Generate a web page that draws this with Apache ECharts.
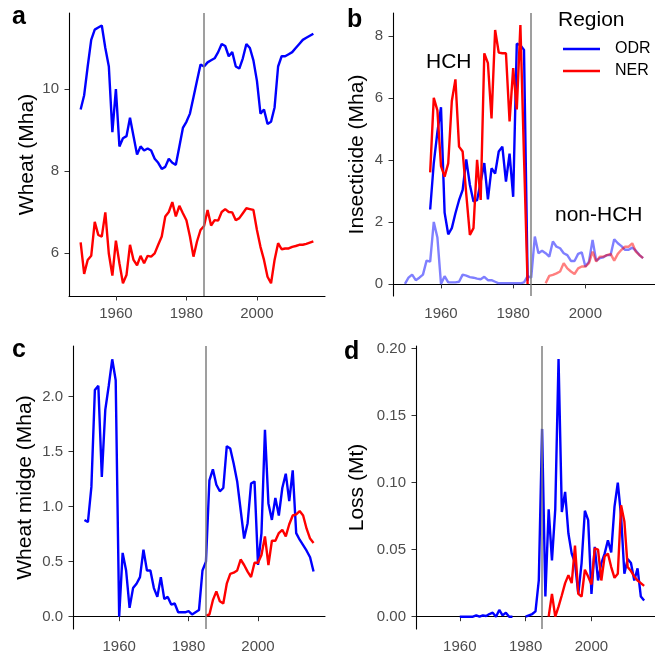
<!DOCTYPE html>
<html>
<head>
<meta charset="utf-8">
<script src="https://cdn.jsdelivr.net/npm/echarts@6/dist/echarts.min.js"></script>
<style>
  html, body { margin: 0; padding: 0; background: #fff; }
  #chart { width: 655px; height: 657px; }
</style>
</head>
<body>
<div id="chart"></div>
<script>
// values, one value per year from the start year
const wheatStart = 1950
const wheatODR = [9.5, 9.85, 10.55, 11.2, 11.45, 11.5, 11.55, 11.0, 10.55, 8.95,
  10.0, 8.6, 8.8, 8.85, 9.3, 8.85, 8.4, 8.6, 8.5, 8.55,
  8.5, 8.3, 8.2, 8.05, 8.1, 8.3, 8.2, 8.15, 8.6, 9.05,
  9.2, 9.4, 9.8, 10.2, 10.6, 10.55, 10.65, 10.7, 10.75, 10.9,
  11.1, 11.05, 10.8, 10.9, 10.55, 10.5, 10.75, 11.1, 11.0, 10.7,
  10.2, 9.4, 9.5, 9.15, 9.2, 9.55, 10.55, 10.8, 10.8, 10.85,
  10.9, 11.0, 11.1, 11.2, 11.25, 11.3, 11.35]
const wheatNER = [6.26, 5.49, 5.83, 5.93, 6.76, 6.44, 6.4, 6.99, 5.98, 5.45,
  6.3, 5.75, 5.26, 5.46, 6.2, 5.83, 5.7, 5.93, 5.75, 5.93,
  5.91, 5.99, 6.2, 6.4, 6.89, 7.0, 7.24, 6.89, 7.15, 6.97,
  6.8, 6.4, 5.91, 6.28, 6.56, 6.66, 7.05, 6.67, 6.8, 6.79,
  7.0, 7.07, 7.0, 6.99, 6.8, 6.85, 6.97, 7.09, 7.07, 7.05,
  6.56, 6.15, 5.83, 5.42, 5.26, 5.83, 6.24, 6.09, 6.11, 6.11,
  6.15, 6.17, 6.2, 6.2, 6.22, 6.25, 6.28]

const hchStart = 1957
const hchODR = [2.4, 3.9, 4.9, 5.7, 2.3, 1.6, 1.8, 2.28, 2.7, 3.03,
  4.02, 3.2, 2.66, 2.7, 3.3, 3.9, 2.73, 3.73, 3.56, 4.27,
  4.43, 3.3, 4.2, 2.81, 7.75, 7.7, 7.55, 0.1]
const hchNER = [3.6, 6.0, 5.6, 3.8, 3.46, 3.89, 5.9, 6.6, 4.43, 4.27,
  2.9, 1.58, 1.8, 4.0, 2.71, 7.44, 7.12, 5.34, 8.19, 7.46,
  7.44, 7.44, 5.24, 6.96, 5.63, 8.35, 4.1, 0.0]
const nonHchODRStart = 1950
const nonHchODR = [0.0, 0.2, 0.3, 0.12, 0.2, 0.3, 0.75, 0.72, 2.0, 1.5,
  0.0, 0.25, 0.05, 0.05, 0.05, 0.07, 0.3, 0.27, 0.22, 0.2,
  0.17, 0.15, 0.23, 0.12, 0.12, 0.07, 0.02, 0.02, 0.02, 0.02,
  0.02, 0.02, 0.02, 0.05, 0.25, 0.2, 1.53, 0.99, 1.07, 0.99,
  0.88, 1.37, 1.2, 1.15, 0.99, 0.93, 0.74, 0.74, 0.97, 1.02,
  0.56, 0.72, 1.42, 0.75, 0.83, 0.86, 0.93, 0.93, 1.44, 1.31,
  1.22, 1.1, 1.1, 1.17, 1.07, 0.93, 0.83]
const nonHchNERStart = 1989
const nonHchNER = [0.02, 0.26, 0.29, 0.34, 0.4, 0.67, 0.5, 0.4, 0.32, 0.5,
  0.56, 0.56, 0.67, 1.04, 0.72, 0.88, 0.88, 0.93, 0.97, 0.75,
  0.97, 1.1, 1.2, 1.2, 1.31, 1.04, 0.93, 0.83]

const midgeODRStart = 1950
const midgeODR = [0.88, 0.86, 1.18, 2.06, 2.1, 1.27, 1.88, 2.1, 2.34, 2.15,
  0.0, 0.58, 0.42, 0.08, 0.26, 0.3, 0.36, 0.61, 0.42, 0.42,
  0.26, 0.18, 0.36, 0.16, 0.18, 0.11, 0.12, 0.04, 0.04, 0.04,
  0.05, 0.02, 0.04, 0.06, 0.42, 0.5, 1.24, 1.34, 1.2, 1.14,
  1.17, 1.55, 1.53, 1.39, 1.23, 0.97, 0.71, 0.85, 1.21, 1.23,
  0.47, 0.76, 1.7, 1.03, 0.88, 1.08, 0.92, 1.17, 1.3, 1.05,
  1.33, 0.76, 0.7, 0.65, 0.6, 0.54, 0.41]
const midgeNERStart = 1985
const midgeNER = [0.01, 0.02, 0.15, 0.23, 0.14, 0.12, 0.3, 0.39, 0.4, 0.42,
  0.52, 0.47, 0.41, 0.36, 0.49, 0.49, 0.56, 0.73, 0.47, 0.69,
  0.69, 0.76, 0.79, 0.73, 0.84, 0.92, 0.93, 0.96, 0.92, 0.8,
  0.71, 0.67]

const lossODRStart = 1960
const lossODR = [0, 0, 0, 0, 0, 0.001, 0, 0.001, 0.0005, 0.002,
  0.003, 0.0, 0.005, 0.001, 0.003, 0.0, 0.0, null, null, null,
  0.0, 0.001, 0.002, 0.004, 0.027, 0.14, 0.015, 0.08, 0.042, 0.08,
  0.192, 0.078, 0.093, 0.062, 0.047, 0.04, 0.017, 0.04, 0.079, 0.072,
  0.017, 0.052, 0.027, 0.04, 0.047, 0.057, 0.048, 0.082, 0.1, 0.075,
  0.032, 0.043, 0.04, 0.027, 0.036, 0.015, 0.012]
const lossNERStart = 1987
const lossNER = [0.0, 0.017, 0.0, 0.0075, 0.016, 0.025, 0.031, 0.025, 0.053, 0.017,
  0.015, 0.035, 0.03, 0.024, 0.051, 0.05, 0.027, 0.045, 0.047, 0.037,
  0.029, 0.032, 0.083, 0.071, 0.037, 0.034, 0.03, 0.027, 0.025, 0.023]

const yearTicks = [1960, 1980, 2000]
const changeYear = 1985

const BLUE = '#0000ff'
const RED = '#ff0000'
const FONT = '"Liberation Sans", Arial, Helvetica, sans-serif'

function pairs(start, values) {
  return values.map((v, i) => [start + i, v])
}

function xAxisFor(gridIndex) {
  return {
    type: 'value', gridIndex: gridIndex, min: 1946.7, max: 2019.3,
    axisLine: { lineStyle: { color: '#000', width: 1.1 } },
    axisTick: { length: 4.5, lineStyle: { color: '#333' }, customValues: yearTicks },
    axisLabel: {
      customValues: yearTicks, color: '#4d4d4d', fontSize: 15, fontFamily: FONT, margin: 10,
      formatter: v => String(v)
    },
    splitLine: { show: false }
  }
}

function yAxisFor(gridIndex, name, min, max, ticks, digits, gap) {
  return {
    type: 'value', gridIndex: gridIndex, min: min, max: max,
    name: name, nameLocation: 'middle', nameGap: gap,
    nameTextStyle: { color: '#000', fontSize: 21, fontFamily: FONT },
    axisLine: { show: true, lineStyle: { color: '#000', width: 1.1 } },
    axisTick: { show: true, length: 4.5, lineStyle: { color: '#333' }, customValues: ticks },
    axisLabel: {
      customValues: ticks, color: '#4d4d4d', fontSize: 15, fontFamily: FONT, margin: 10,
      formatter: v => v.toFixed(digits)
    },
    splitLine: { show: false }
  }
}

function line(name, idx, data, color, opacity) {
  return {
    name: name, type: 'line', xAxisIndex: idx, yAxisIndex: idx,
    data: data, showSymbol: false, symbol: 'none', connectNulls: false,
    itemStyle: { color: color },
    lineStyle: { color: color, width: 2.4, opacity: opacity == null ? 1 : opacity },
    z: 3, silent: true, animation: false
  }
}

function vline(idx) {
  return {
    type: 'line', xAxisIndex: idx, yAxisIndex: idx, data: [], z: 2, silent: true,
    markLine: {
      silent: true, symbol: 'none', animation: false,
      label: { show: false },
      lineStyle: { color: '#7f7f7f', width: 1.5, type: 'solid' },
      data: [{ xAxis: changeYear }]
    }
  }
}

function txt(text, x, y, size, bold, align) {
  return {
    type: 'text', x: x, y: y,
    style: {
      text: text, fill: '#000', fontSize: size, fontFamily: FONT,
      fontWeight: bold ? 'bold' : 'normal',
      textAlign: align || 'left', textVerticalAlign: 'middle'
    }
  }
}

const chart = echarts.init(document.getElementById('chart'))
chart.setOption({
  animation: false,
  grid: [
    { left: 69, top: 13, width: 256, height: 283 },
    { left: 393, top: 13, width: 264, height: 283 },
    { left: 73, top: 346, width: 252, height: 283 },
    { left: 416, top: 346, width: 245, height: 283 }
  ],
  xAxis: [xAxisFor(0), xAxisFor(1), xAxisFor(2), xAxisFor(3)],
  yAxis: [
    yAxisFor(0, 'Wheat (Mha)', 4.95, 11.855, [6, 8, 10], 0, 31),
    yAxisFor(1, 'Insecticide (Mha)', -0.39, 8.74, [0, 2, 4, 6, 8], 0, 25),
    yAxisFor(2, 'Wheat midge (Mha)', -0.112, 2.461, [0, 0.5, 1, 1.5, 2], 1, 37),
    yAxisFor(3, 'Loss (Mt)', -0.00917, 0.2018, [0, 0.05, 0.1, 0.15, 0.2], 2, 48)
  ],
  legend: {
    orient: 'vertical', left: 563, top: 41, itemGap: 6, padding: 0,
    itemWidth: 37, itemHeight: 2.5, icon: 'rect',
    data: ['ODR', 'NER'],
    selectedMode: false,
    textStyle: { color: '#000', fontSize: 16, fontFamily: FONT, lineHeight: 16, padding: [0, 0, 0, 10] }
  },
  graphic: [
    txt('a', 12, 17, 25, true),
    txt('b', 347, 20, 25, true),
    txt('c', 12, 350, 25, true),
    txt('d', 344, 352, 25, true),
    txt('HCH', 426, 62, 21, false),
    txt('non-HCH', 555, 215, 21, false),
    txt('Region', 558, 20, 21, false)
  ],
  series: [
    vline(0),
    line('ODR', 0, pairs(wheatStart, wheatODR), BLUE),
    line('NER', 0, pairs(wheatStart, wheatNER), RED),
    vline(1),
    line('ODR non-HCH', 1, pairs(nonHchODRStart, nonHchODR), BLUE, 0.5),
    line('NER non-HCH', 1, pairs(nonHchNERStart, nonHchNER), RED, 0.5),
    line('ODR', 1, pairs(hchStart, hchODR), BLUE),
    line('NER', 1, pairs(hchStart, hchNER), RED),
    vline(2),
    line('ODR', 2, pairs(midgeODRStart, midgeODR), BLUE),
    line('NER', 2, pairs(midgeNERStart, midgeNER), RED),
    vline(3),
    line('ODR', 3, pairs(lossODRStart, lossODR), BLUE),
    line('NER', 3, pairs(lossNERStart, lossNER), RED)
  ]
})
</script>
</body>
</html>
